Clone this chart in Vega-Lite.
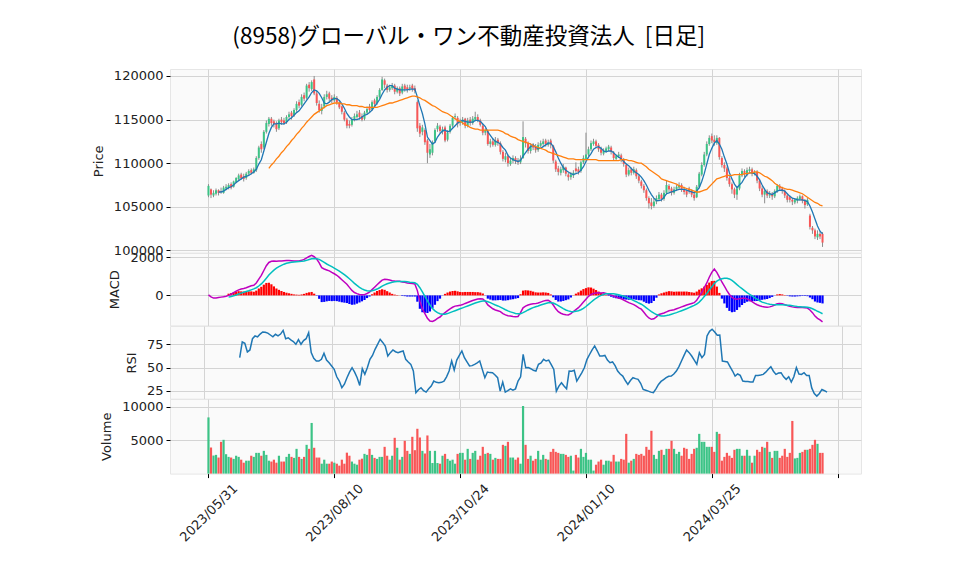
{
"$schema":"https://vega.github.io/schema/vega-lite/v6.json",
"background":"white",
"padding":{"left":91,"top":26,"right":40,"bottom":5},
"title":{"text":"(8958)グローバル・ワン不動産投資法人\u00a0\u00a0[日足]","font":"Noto Sans CJK JP","fontSize":22.5,"fontWeight":"normal","color":"#000000","anchor":"middle","offset":20,"dx":-8},
"spacing":0,
"bounds":"flush",
"config":{
"view":{"fill":"#fafafa","stroke":"#e6e6e6"},
"axis":{"labelFont":"DejaVu Sans","labelFontSize":13,"titleFont":"DejaVu Sans","titleFontSize":13,"titleFontWeight":"normal","labelColor":"#222222","titleColor":"#222222","gridColor":"#d4d4d4","gridWidth":1,"tickColor":"#000000","tickSize":4,"domain":false,"labelPadding":3,"titlePadding":8}
},
"datasets":{"d":[
{"i":0,"o":106300,"h":107600,"l":106100,"c":107400,"v":8400,"md":30},
{"i":1,"o":107000,"h":107100,"l":106000,"c":106400,"v":3900,"md":-80},
{"i":2,"o":106300,"h":106900,"l":106100,"c":106600,"v":2700,"md":-140},
{"i":3,"o":106500,"h":107100,"l":106300,"c":106900,"v":2800,"md":-130},
{"i":4,"o":106900,"h":107000,"l":106300,"c":106600,"v":2400,"m5":106700,"md":-110},
{"i":5,"o":106800,"h":107200,"l":106500,"c":106700,"v":4750,"m5":106700,"md":-90},
{"i":6,"o":106600,"h":107400,"l":106500,"c":107200,"v":5050,"m5":106800,"md":-70},
{"i":7,"o":107100,"h":107600,"l":106900,"c":107300,"v":2900,"m5":107000,"md":-40},
{"i":8,"o":107200,"h":107700,"l":107000,"c":107500,"v":2500,"m5":107200,"md":0,"sg":-90,"hs":90},
{"i":9,"o":107600,"h":107800,"l":107000,"c":107200,"v":2400,"m5":107300,"md":60,"sg":-60,"hs":120},
{"i":10,"o":107300,"h":108000,"l":107200,"c":107900,"v":2200,"m5":107500,"md":140,"sg":-20,"hs":160},
{"i":11,"o":107800,"h":108400,"l":107700,"c":108300,"v":2670,"m5":107800,"md":220,"sg":20,"hs":200},
{"i":12,"o":108200,"h":108800,"l":108000,"c":108600,"v":2500,"m5":108000,"md":290,"sg":70,"hs":220},
{"i":13,"o":108700,"h":108900,"l":108100,"c":108300,"v":2080,"m5":108200,"md":330,"sg":120,"hs":210},
{"i":14,"o":108500,"h":108800,"l":107900,"c":108200,"v":1630,"m5":108400,"md":360,"sg":160,"hs":200,"r":60.6},
{"i":15,"o":108300,"h":109000,"l":108100,"c":108800,"v":1930,"m5":108500,"md":400,"sg":200,"hs":200,"r":77.5},
{"i":16,"o":108800,"h":109300,"l":108600,"c":109100,"v":1930,"m5":108600,"md":450,"sg":240,"hs":210,"r":76},
{"i":17,"o":109200,"h":109400,"l":108700,"c":108900,"v":2670,"m5":108800,"md":500,"sg":290,"hs":210,"r":66.7},
{"i":18,"o":108900,"h":109500,"l":108800,"c":109300,"v":2500,"m5":109000,"md":530,"sg":340,"hs":190,"r":68.9},
{"i":19,"o":109200,"h":110800,"l":109000,"c":110600,"v":3100,"m5":109300,"md":650,"sg":400,"hs":250,"r":81},
{"i":20,"o":110600,"h":112000,"l":110400,"c":111800,"v":3100,"m5":109900,"md":850,"sg":490,"hs":360,"r":84},
{"i":21,"o":112200,"h":112500,"l":111200,"c":111600,"v":2670,"m5":110400,"md":1050,"sg":600,"hs":450,"r":83},
{"i":22,"o":111800,"h":113800,"l":111600,"c":113600,"v":3400,"m5":111400,"md":1300,"sg":740,"hs":560,"r":86},
{"i":23,"o":113600,"h":114900,"l":113400,"c":114600,"v":2800,"m5":112400,"md":1550,"sg":900,"hs":650,"r":88.3},
{"i":24,"o":114500,"h":115300,"l":114200,"c":115100,"v":1930,"m5":113400,"m25":109400,"md":1720,"sg":1060,"hs":660,"r":88},
{"i":25,"o":115100,"h":115300,"l":114300,"c":114600,"v":1800,"m5":114100,"m25":109800,"md":1780,"sg":1200,"hs":580,"r":87},
{"i":26,"o":114800,"h":115000,"l":114100,"c":114500,"v":2080,"m5":114500,"m25":110100,"md":1790,"sg":1320,"hs":470,"r":85},
{"i":27,"o":114600,"h":114800,"l":113600,"c":113900,"v":1630,"m5":114500,"m25":110500,"md":1780,"sg":1420,"hs":360,"r":83},
{"i":28,"o":114000,"h":115100,"l":113800,"c":114900,"v":2670,"m5":114600,"m25":110800,"md":1790,"sg":1500,"hs":290,"r":85.8},
{"i":29,"o":115000,"h":115300,"l":114400,"c":114700,"v":1800,"m5":114500,"m25":111200,"md":1800,"sg":1570,"hs":230,"r":84},
{"i":30,"o":114900,"h":115200,"l":114400,"c":114600,"v":1800,"m5":114500,"m25":111500,"md":1810,"sg":1630,"hs":180,"r":86},
{"i":31,"o":114700,"h":115500,"l":114500,"c":115300,"v":2500,"m5":114700,"m25":111900,"md":1820,"sg":1680,"hs":140,"r":90},
{"i":32,"o":115300,"h":115900,"l":115100,"c":115600,"v":2950,"m5":115000,"m25":112200,"md":1820,"sg":1710,"hs":110,"r":81},
{"i":33,"o":115800,"h":116000,"l":115000,"c":115400,"v":2500,"m5":115200,"m25":112600,"md":1810,"sg":1730,"hs":80,"r":82},
{"i":34,"o":115500,"h":116300,"l":115300,"c":116100,"v":2350,"m5":115500,"m25":112900,"md":1800,"sg":1750,"hs":50,"r":79.7},
{"i":35,"o":116100,"h":117100,"l":115900,"c":116800,"v":3700,"m5":115800,"m25":113300,"md":1800,"sg":1760,"hs":40,"r":78},
{"i":36,"o":117000,"h":117300,"l":116300,"c":116600,"v":2500,"m5":116000,"m25":113600,"md":1800,"sg":1770,"hs":30,"r":75},
{"i":37,"o":116700,"h":117900,"l":116500,"c":117600,"v":2200,"m5":116400,"m25":114000,"md":1830,"sg":1780,"hs":50,"r":80},
{"i":38,"o":117800,"h":118100,"l":117100,"c":117400,"v":2500,"m5":116800,"m25":114300,"md":1880,"sg":1800,"hs":80,"r":75},
{"i":39,"o":117500,"h":119100,"l":117300,"c":118900,"v":4300,"m5":117200,"m25":114700,"md":1960,"sg":1830,"hs":130,"r":79},
{"i":40,"o":119000,"h":119300,"l":118200,"c":118600,"v":3700,"m5":117600,"m25":115000,"md":2030,"sg":1870,"hs":160,"r":81},
{"i":41,"o":118500,"h":119500,"l":118300,"c":119300,"v":7570,"m5":118100,"m25":115300,"md":2090,"sg":1910,"hs":180,"r":87.6},
{"i":42,"o":119600,"h":120000,"l":117800,"c":118000,"v":3860,"m5":118400,"m25":115600,"md":2020,"sg":1930,"hs":90,"r":66},
{"i":43,"o":118000,"h":118300,"l":116600,"c":116900,"v":2400,"m5":118300,"m25":115800,"md":1900,"sg":1920,"hs":-20,"r":60},
{"i":44,"o":116800,"h":117200,"l":115800,"c":116100,"v":2400,"m5":118000,"m25":116000,"md":1700,"sg":1880,"hs":-180,"r":57},
{"i":45,"o":116000,"h":116800,"l":115600,"c":116400,"v":1480,"m5":117500,"m25":116200,"md":1450,"sg":1800,"hs":-350,"r":57},
{"i":46,"o":116500,"h":117900,"l":116300,"c":117600,"v":2080,"m5":116900,"m25":116400,"md":1380,"sg":1720,"hs":-340,"r":58.8},
{"i":47,"o":117600,"h":118300,"l":117300,"c":117900,"v":1480,"m5":116800,"m25":116600,"md":1330,"sg":1640,"hs":-310,"r":65.3},
{"i":48,"o":118000,"h":118200,"l":117100,"c":117400,"v":1480,"m5":117000,"m25":116700,"md":1280,"sg":1570,"hs":-290,"r":58},
{"i":49,"o":117500,"h":117800,"l":116900,"c":117200,"v":1800,"m5":117300,"m25":116800,"md":1200,"sg":1500,"hs":-300,"r":55},
{"i":50,"o":117200,"h":117900,"l":117000,"c":117600,"v":1630,"m5":117400,"m25":116900,"md":1130,"sg":1420,"hs":-290,"r":51.6},
{"i":51,"o":117500,"h":117700,"l":116700,"c":117000,"v":1480,"m5":117400,"m25":116900,"md":1050,"sg":1350,"hs":-300,"r":48},
{"i":52,"o":116900,"h":117100,"l":116200,"c":116400,"v":1190,"m5":117200,"m25":116900,"md":940,"sg":1270,"hs":-330,"r":40},
{"i":53,"o":116500,"h":116600,"l":115600,"c":115900,"v":2080,"m5":116800,"m25":116800,"md":820,"sg":1180,"hs":-360,"r":35.4},
{"i":54,"o":115800,"h":116000,"l":114800,"c":115000,"v":1480,"m5":116300,"m25":116800,"md":700,"sg":1080,"hs":-380,"r":28.2},
{"i":55,"o":115000,"h":115200,"l":114000,"c":114300,"v":3130,"m5":115700,"m25":116700,"md":580,"sg":980,"hs":-400,"r":32},
{"i":56,"o":114500,"h":114900,"l":114000,"c":114300,"v":2670,"m5":115300,"m25":116700,"md":420,"sg":870,"hs":-450,"r":39},
{"i":57,"o":114400,"h":115300,"l":114200,"c":115000,"v":1800,"m5":115000,"m25":116600,"md":260,"sg":750,"hs":-490,"r":45},
{"i":58,"o":115000,"h":115700,"l":114800,"c":115400,"v":1480,"m5":115000,"m25":116600,"md":150,"sg":630,"hs":-480,"r":49.8},
{"i":59,"o":115300,"h":116000,"l":115100,"c":115600,"v":1330,"m5":115000,"m25":116600,"md":90,"sg":520,"hs":-430,"r":45},
{"i":60,"o":115800,"h":116100,"l":115000,"c":115300,"v":2080,"m5":115100,"m25":116500,"md":50,"sg":420,"hs":-370,"r":39},
{"i":61,"o":115400,"h":115700,"l":114800,"c":115000,"v":2230,"m5":115300,"m25":116500,"md":30,"sg":340,"hs":-310,"r":30.7},
{"i":62,"o":115100,"h":116000,"l":114900,"c":115800,"v":2950,"m5":115500,"m25":116400,"md":40,"sg":280,"hs":-240,"r":48.7},
{"i":63,"o":115800,"h":116500,"l":115600,"c":116200,"v":2800,"m5":115600,"m25":116400,"md":100,"sg":240,"hs":-140,"r":42.6},
{"i":64,"o":116500,"h":116800,"l":115800,"c":116100,"v":3700,"m5":115800,"m25":116400,"md":170,"sg":230,"hs":-60,"r":50},
{"i":65,"o":116200,"h":117200,"l":116000,"c":117000,"v":2800,"m5":116100,"m25":116400,"md":300,"sg":240,"hs":60,"r":58.8},
{"i":66,"o":117200,"h":117400,"l":116500,"c":116800,"v":2350,"m5":116500,"m25":116400,"md":430,"sg":280,"hs":150,"r":63},
{"i":67,"o":116900,"h":117800,"l":116700,"c":117600,"v":2200,"m5":116900,"m25":116400,"md":560,"sg":330,"hs":230,"r":69.6},
{"i":68,"o":117600,"h":118600,"l":117400,"c":118400,"v":2500,"m5":117300,"m25":116500,"md":680,"sg":400,"hs":280,"r":75},
{"i":69,"o":118400,"h":119900,"l":118300,"c":119600,"v":2500,"m5":117900,"m25":116600,"md":800,"sg":480,"hs":320,"r":80.4},
{"i":70,"o":119500,"h":119700,"l":118600,"c":119000,"v":4000,"m5":118400,"m25":116700,"md":840,"sg":550,"hs":290,"r":77},
{"i":71,"o":118900,"h":119100,"l":118100,"c":118400,"v":2670,"m5":118700,"m25":116800,"md":830,"sg":610,"hs":220,"r":73.2},
{"i":72,"o":118400,"h":119000,"l":118200,"c":118700,"v":2080,"m5":118900,"m25":116900,"md":800,"sg":650,"hs":150,"r":62.4},
{"i":73,"o":118600,"h":119200,"l":118400,"c":118900,"v":2670,"m5":118900,"m25":116900,"md":770,"sg":690,"hs":80,"r":66},
{"i":74,"o":118900,"h":119100,"l":117900,"c":118200,"v":5350,"m5":118600,"m25":117000,"md":750,"sg":710,"hs":40,"r":68.9},
{"i":75,"o":118200,"h":118800,"l":118000,"c":118600,"v":3860,"m5":118500,"m25":117100,"md":740,"sg":720,"hs":20,"r":67},
{"i":76,"o":118600,"h":118800,"l":117700,"c":118000,"v":2080,"m5":118400,"m25":117200,"md":735,"sg":730,"hs":5,"r":66},
{"i":77,"o":118100,"h":119100,"l":117900,"c":118800,"v":2500,"m5":118400,"m25":117300,"md":700,"sg":730,"hs":-30,"r":67},
{"i":78,"o":118900,"h":119100,"l":118200,"c":118500,"v":4900,"m5":118400,"m25":117400,"md":680,"sg":720,"hs":-40,"r":67.8},
{"i":79,"o":118700,"h":119000,"l":118100,"c":118400,"v":3400,"m5":118400,"m25":117500,"md":650,"sg":710,"hs":-60,"r":58.8},
{"i":80,"o":118600,"h":119000,"l":118300,"c":118700,"v":2950,"m5":118500,"m25":117600,"md":630,"sg":690,"hs":-60,"r":56},
{"i":81,"o":118900,"h":119100,"l":118200,"c":118500,"v":5500,"m5":118500,"m25":117700,"md":620,"sg":680,"hs":-60,"r":53.4},
{"i":82,"o":118600,"h":118900,"l":118000,"c":118300,"v":3500,"m5":118500,"m25":117700,"md":600,"sg":660,"hs":-60,"r":46.2},
{"i":83,"o":117000,"h":117200,"l":113600,"c":114000,"v":6700,"m5":117600,"m25":117600,"md":250,"sg":580,"hs":-330,"r":22.8},
{"i":84,"o":114300,"h":114600,"l":113000,"c":113400,"v":5400,"m5":116600,"m25":117500,"md":-300,"sg":400,"hs":-700,"r":26},
{"i":85,"o":113600,"h":114400,"l":113200,"c":114100,"v":3400,"m5":115700,"m25":117300,"md":-700,"sg":180,"hs":-880,"r":28.2},
{"i":86,"o":113800,"h":114000,"l":112100,"c":112400,"v":3000,"m5":114500,"m25":117200,"md":-950,"sg":-50,"hs":-900,"r":25},
{"i":87,"o":112600,"h":112800,"l":110000,"c":111200,"v":5700,"m5":113000,"m25":117000,"md":-1200,"sg":-280,"hs":-920,"r":23.5},
{"i":88,"o":111000,"h":112200,"l":110600,"c":111600,"v":3400,"m5":112600,"m25":116800,"md":-1340,"sg":-500,"hs":-840,"r":27},
{"i":89,"o":111200,"h":112600,"l":110900,"c":112400,"v":1580,"m5":112200,"m25":116600,"md":-1360,"sg":-680,"hs":-680,"r":30},
{"i":90,"o":112500,"h":114000,"l":112300,"c":113800,"v":3400,"m5":112400,"m25":116500,"md":-1300,"sg":-810,"hs":-490,"r":35.4},
{"i":91,"o":113900,"h":114600,"l":113600,"c":114300,"v":1580,"m5":113000,"m25":116300,"md":-1200,"sg":-900,"hs":-300,"r":34},
{"i":92,"o":114200,"h":114400,"l":113400,"c":113700,"v":1480,"m5":113400,"m25":116100,"md":-1130,"sg":-960,"hs":-170,"r":33.6},
{"i":93,"o":113600,"h":114200,"l":113300,"c":113900,"v":2670,"m5":113700,"m25":115900,"md":-1000,"sg":-990,"hs":-10,"r":34},
{"i":94,"o":114100,"h":114300,"l":112400,"c":112600,"v":2950,"m5":113800,"m25":115800,"md":-900,"sg":-980,"hs":80,"r":35.4},
{"i":95,"o":112700,"h":113800,"l":112500,"c":113500,"v":2200,"m5":113600,"m25":115700,"md":-800,"sg":-950,"hs":150,"r":40},
{"i":96,"o":113600,"h":114500,"l":113400,"c":114300,"v":1930,"m5":113700,"m25":115500,"md":-700,"sg":-900,"hs":200,"r":46.2},
{"i":97,"o":114300,"h":115400,"l":114100,"c":115200,"v":2080,"m5":114000,"m25":115300,"md":-620,"sg":-850,"hs":230,"r":57},
{"i":98,"o":115300,"h":115700,"l":115000,"c":115400,"v":1480,"m5":114300,"m25":115100,"md":-560,"sg":-800,"hs":240,"r":47.3},
{"i":99,"o":115200,"h":115400,"l":114100,"c":114500,"v":2950,"m5":114600,"m25":114900,"md":-540,"sg":-750,"hs":210,"r":58},
{"i":100,"o":114600,"h":115100,"l":114300,"c":114800,"v":3100,"m5":114800,"m25":114800,"md":-520,"sg":-700,"hs":180,"r":63},
{"i":101,"o":114700,"h":115300,"l":114400,"c":115000,"v":3100,"m5":114900,"m25":114600,"md":-480,"sg":-650,"hs":170,"r":67.8},
{"i":102,"o":115100,"h":115200,"l":114000,"c":114300,"v":2080,"m5":114800,"m25":114400,"md":-420,"sg":-600,"hs":180,"r":60.6},
{"i":103,"o":114300,"h":115200,"l":114100,"c":114900,"v":3700,"m5":114700,"m25":114300,"md":-370,"sg":-550,"hs":180,"r":56},
{"i":104,"o":115000,"h":115300,"l":114300,"c":114600,"v":2200,"m5":114700,"m25":114100,"md":-320,"sg":-500,"hs":180,"r":51.6},
{"i":105,"o":114600,"h":115400,"l":114400,"c":115100,"v":3100,"m5":114700,"m25":114000,"md":-270,"sg":-450,"hs":180,"r":52},
{"i":106,"o":115000,"h":115900,"l":114800,"c":115300,"v":3400,"m5":114900,"m25":113900,"md":-230,"sg":-400,"hs":170,"r":53.4},
{"i":107,"o":115300,"h":115600,"l":114700,"c":114900,"v":2080,"m5":114900,"m25":113900,"md":-190,"sg":-360,"hs":170,"r":55},
{"i":108,"o":114900,"h":115100,"l":114200,"c":114400,"v":2670,"m5":114800,"m25":113800,"md":-170,"sg":-320,"hs":150,"r":57},
{"i":109,"o":114300,"h":114500,"l":113200,"c":113500,"v":4000,"m5":114500,"m25":113800,"md":-190,"sg":-290,"hs":100,"r":48},
{"i":110,"o":113500,"h":114000,"l":113200,"c":113800,"v":2950,"m5":114200,"m25":113800,"md":-300,"sg":-290,"hs":-10,"r":39},
{"i":111,"o":113700,"h":113800,"l":112000,"c":112200,"v":3100,"m5":113600,"m25":113800,"md":-500,"sg":-330,"hs":-170,"r":45.1},
{"i":112,"o":112200,"h":112800,"l":111800,"c":112500,"v":2950,"m5":113200,"m25":113800,"md":-600,"sg":-380,"hs":-220,"r":44.5},
{"i":113,"o":112500,"h":112800,"l":111900,"c":112100,"v":2080,"m5":112800,"m25":113800,"md":-700,"sg":-440,"hs":-260,"r":44.4},
{"i":114,"o":112100,"h":113000,"l":111900,"c":112600,"v":2350,"m5":112500,"m25":113800,"md":-760,"sg":-500,"hs":-260,"r":42},
{"i":115,"o":112700,"h":112900,"l":112000,"c":112300,"v":2200,"m5":112400,"m25":113800,"md":-800,"sg":-550,"hs":-250,"r":39},
{"i":116,"o":112300,"h":112500,"l":111000,"c":111300,"v":2200,"m5":112200,"m25":113700,"md":-850,"sg":-610,"hs":-240,"r":24.6},
{"i":117,"o":111300,"h":111500,"l":110200,"c":110500,"v":4300,"m5":111800,"m25":113600,"md":-950,"sg":-680,"hs":-270,"r":34.3},
{"i":118,"o":110400,"h":111200,"l":110100,"c":110800,"v":4150,"m5":111500,"m25":113400,"md":-1020,"sg":-750,"hs":-270,"r":23.5},
{"i":119,"o":110800,"h":111000,"l":109600,"c":110000,"v":4750,"m5":110900,"m25":113300,"md":-1060,"sg":-810,"hs":-250,"r":25},
{"i":120,"o":109900,"h":110600,"l":109700,"c":110300,"v":2400,"m5":110600,"m25":113100,"md":-1080,"sg":-860,"hs":-220,"r":27},
{"i":121,"o":110300,"h":110900,"l":110000,"c":110600,"v":2400,"m5":110400,"m25":113000,"md":-1100,"sg":-900,"hs":-200,"r":25.7},
{"i":122,"o":110600,"h":110800,"l":109900,"c":110200,"v":2080,"m5":110300,"m25":112900,"md":-1110,"sg":-940,"hs":-170,"r":27},
{"i":123,"o":110300,"h":110600,"l":109800,"c":110100,"v":2400,"m5":110200,"m25":112700,"md":-1100,"sg":-960,"hs":-140,"r":35.4},
{"i":124,"o":110100,"h":110900,"l":109900,"c":110500,"v":1480,"m5":110300,"m25":112600,"md":-900,"sg":-960,"hs":60,"r":40},
{"i":125,"o":110600,"h":114800,"l":110500,"c":113000,"v":10100,"m5":110800,"m25":112500,"md":-650,"sg":-900,"hs":250,"r":64.2},
{"i":126,"o":112800,"h":113000,"l":111800,"c":112300,"v":4300,"m5":111200,"m25":112400,"md":-560,"sg":-830,"hs":270,"r":49.8},
{"i":127,"o":112300,"h":112500,"l":111100,"c":111400,"v":2200,"m5":111600,"m25":112300,"md":-500,"sg":-760,"hs":260,"r":50},
{"i":128,"o":111400,"h":112300,"l":111100,"c":112000,"v":2670,"m5":111900,"m25":112200,"md":-460,"sg":-700,"hs":240,"r":48.7},
{"i":129,"o":112100,"h":112300,"l":111500,"c":111800,"v":1930,"m5":112100,"m25":112000,"md":-440,"sg":-640,"hs":200,"r":47},
{"i":130,"o":111900,"h":112200,"l":111200,"c":111500,"v":2200,"m5":111800,"m25":111900,"md":-430,"sg":-590,"hs":160,"r":46.2},
{"i":131,"o":111500,"h":112400,"l":111300,"c":112100,"v":3400,"m5":111700,"m25":111800,"md":-400,"sg":-550,"hs":150,"r":53.4},
{"i":132,"o":112000,"h":112600,"l":111800,"c":112300,"v":2080,"m5":111700,"m25":111700,"md":-350,"sg":-500,"hs":150,"r":55},
{"i":133,"o":112200,"h":112800,"l":112000,"c":112500,"v":2800,"m5":111900,"m25":111600,"md":-300,"sg":-460,"hs":160,"r":58.8},
{"i":134,"o":112600,"h":112800,"l":111900,"c":112200,"v":2200,"m5":112100,"m25":111500,"md":-270,"sg":-420,"hs":150,"r":57},
{"i":135,"o":112100,"h":112700,"l":111900,"c":112400,"v":2080,"m5":112300,"m25":111300,"md":-260,"sg":-390,"hs":130,"r":58},
{"i":136,"o":112600,"h":112800,"l":111700,"c":112100,"v":3250,"m5":112300,"m25":111200,"md":-330,"sg":-380,"hs":50,"r":53},
{"i":137,"o":112000,"h":112100,"l":110000,"c":110300,"v":3700,"m5":111900,"m25":111100,"md":-500,"sg":-400,"hs":-100,"r":48},
{"i":138,"o":110200,"h":110400,"l":109000,"c":109300,"v":3250,"m5":111300,"m25":111000,"md":-700,"sg":-460,"hs":-240,"r":24.6},
{"i":139,"o":109400,"h":109700,"l":108600,"c":109000,"v":3100,"m5":110600,"m25":110900,"md":-850,"sg":-530,"hs":-320,"r":30},
{"i":140,"o":108900,"h":109600,"l":108600,"c":109300,"v":2950,"m5":110000,"m25":110800,"md":-930,"sg":-610,"hs":-320,"r":33.6},
{"i":141,"o":109200,"h":109900,"l":108900,"c":109600,"v":2950,"m5":109500,"m25":110700,"md":-980,"sg":-690,"hs":-290,"r":30},
{"i":142,"o":109500,"h":109600,"l":108500,"c":108800,"v":2800,"m5":109200,"m25":110600,"md":-1010,"sg":-760,"hs":-250,"r":27},
{"i":143,"o":108700,"h":108900,"l":108000,"c":108400,"v":2500,"m5":109000,"m25":110500,"md":-1020,"sg":-810,"hs":-210,"r":46.2},
{"i":144,"o":108400,"h":109000,"l":108100,"c":108700,"v":2670,"m5":108800,"m25":110500,"md":-950,"sg":-840,"hs":-110,"r":46},
{"i":145,"o":108600,"h":109200,"l":108300,"c":108900,"v":450,"m5":108700,"m25":110500,"md":-840,"sg":-850,"hs":10,"r":47},
{"i":146,"o":109400,"h":110100,"l":108900,"c":109100,"v":2800,"m5":108800,"m25":110400,"md":-740,"sg":-830,"hs":90,"r":35.4},
{"i":147,"o":109300,"h":109600,"l":108700,"c":109000,"v":2400,"m5":108900,"m25":110400,"md":-640,"sg":-800,"hs":160,"r":40},
{"i":148,"o":109100,"h":110300,"l":108900,"c":110100,"v":3700,"m5":109200,"m25":110400,"md":-500,"sg":-750,"hs":250,"r":44.4},
{"i":149,"o":110100,"h":110900,"l":109900,"c":110600,"v":2500,"m5":109600,"m25":110400,"md":-350,"sg":-680,"hs":330,"r":50},
{"i":150,"o":110500,"h":113500,"l":110300,"c":111000,"v":3100,"m5":110200,"m25":110400,"md":-200,"sg":-580,"hs":380,"r":58.8},
{"i":151,"o":111000,"h":111900,"l":110800,"c":111600,"v":2080,"m5":110700,"m25":110400,"md":-50,"sg":-470,"hs":420,"r":64},
{"i":152,"o":111600,"h":112600,"l":111400,"c":112300,"v":2080,"m5":111100,"m25":110400,"md":50,"sg":-360,"hs":410,"r":69},
{"i":153,"o":112200,"h":112800,"l":112000,"c":112500,"v":450,"m5":111600,"m25":110400,"md":100,"sg":-250,"hs":350,"r":73.2},
{"i":154,"o":112500,"h":112700,"l":111700,"c":112000,"v":1330,"m5":111800,"m25":110400,"md":130,"sg":-150,"hs":280,"r":68},
{"i":155,"o":112100,"h":112300,"l":111300,"c":111600,"v":1800,"m5":111900,"m25":110300,"md":140,"sg":-60,"hs":200,"r":62.4},
{"i":156,"o":111600,"h":111900,"l":110900,"c":111200,"v":2080,"m5":111700,"m25":110300,"md":130,"sg":0,"hs":130,"r":62.4},
{"i":157,"o":111100,"h":111700,"l":110900,"c":111400,"v":1330,"m5":111400,"m25":110300,"md":140,"sg":50,"hs":90,"r":63},
{"i":158,"o":111400,"h":111900,"l":111200,"c":111700,"v":1930,"m5":111300,"m25":110300,"md":100,"sg":80,"hs":20,"r":58},
{"i":159,"o":111600,"h":112100,"l":111400,"c":111900,"v":1930,"m5":111400,"m25":110300,"md":60,"sg":90,"hs":-30,"r":55.2},
{"i":160,"o":111800,"h":112000,"l":111000,"c":111300,"v":1800,"m5":111400,"m25":110300,"md":20,"sg":90,"hs":-70,"r":56},
{"i":161,"o":111200,"h":111400,"l":110300,"c":110600,"v":2800,"m5":111200,"m25":110300,"md":-40,"sg":80,"hs":-120,"r":52},
{"i":162,"o":110500,"h":111000,"l":110300,"c":110800,"v":1800,"m5":110900,"m25":110300,"md":-90,"sg":60,"hs":-150,"r":46.2},
{"i":163,"o":110800,"h":111300,"l":110600,"c":111000,"v":1800,"m5":110700,"m25":110300,"md":-140,"sg":30,"hs":-170,"r":43},
{"i":164,"o":110900,"h":111100,"l":110100,"c":110400,"v":2200,"m5":110500,"m25":110400,"md":-180,"sg":0,"hs":-180,"r":40.8},
{"i":165,"o":110400,"h":110600,"l":109600,"c":109900,"v":2080,"m5":110200,"m25":110400,"md":-240,"sg":-40,"hs":-200,"r":36},
{"i":166,"o":109800,"h":110000,"l":108400,"c":108700,"v":5940,"m5":109900,"m25":110400,"md":-310,"sg":-90,"hs":-220,"r":31.8},
{"i":167,"o":108700,"h":109500,"l":108500,"c":109200,"v":1630,"m5":109700,"m25":110300,"md":-380,"sg":-150,"hs":-230,"r":36},
{"i":168,"o":109300,"h":109500,"l":108600,"c":108900,"v":1930,"m5":109400,"m25":110300,"md":-430,"sg":-210,"hs":-220,"r":39},
{"i":169,"o":108900,"h":109600,"l":108700,"c":109300,"v":2200,"m5":109100,"m25":110200,"md":-480,"sg":-270,"hs":-210,"r":38},
{"i":170,"o":109200,"h":109400,"l":108200,"c":108500,"v":2950,"m5":108900,"m25":110100,"md":-560,"sg":-330,"hs":-230,"r":37.2},
{"i":171,"o":108500,"h":108700,"l":107700,"c":108000,"v":2800,"m5":108700,"m25":110000,"md":-650,"sg":-400,"hs":-250,"r":33},
{"i":172,"o":107900,"h":108100,"l":107100,"c":107400,"v":2950,"m5":108400,"m25":110000,"md":-720,"sg":-460,"hs":-260,"r":26.4},
{"i":173,"o":107400,"h":107600,"l":106600,"c":106900,"v":2670,"m5":108000,"m25":109800,"md":-880,"sg":-550,"hs":-330,"r":25.5},
{"i":174,"o":106900,"h":107100,"l":105700,"c":106000,"v":4000,"m5":107500,"m25":109600,"md":-1050,"sg":-650,"hs":-400,"r":24.6},
{"i":175,"o":106000,"h":106200,"l":104800,"c":105400,"v":3560,"m5":106900,"m25":109300,"md":-1180,"sg":-750,"hs":-430,"r":23.5},
{"i":176,"o":105500,"h":106000,"l":104700,"c":105100,"v":6400,"m5":106400,"m25":109100,"md":-1250,"sg":-850,"hs":-400,"r":22.8},
{"i":177,"o":105100,"h":106000,"l":104900,"c":105600,"v":2800,"m5":106000,"m25":108900,"md":-1220,"sg":-930,"hs":-290,"r":27},
{"i":178,"o":105600,"h":106300,"l":105300,"c":106000,"v":2200,"m5":105700,"m25":108700,"md":-1120,"sg":-1000,"hs":-120,"r":31.8},
{"i":179,"o":105900,"h":106700,"l":105700,"c":106400,"v":3400,"m5":105700,"m25":108500,"md":-1000,"sg":-1050,"hs":50,"r":35},
{"i":180,"o":106400,"h":106600,"l":105600,"c":105900,"v":3560,"m5":105800,"m25":108200,"md":-960,"sg":-1070,"hs":110,"r":37},
{"i":181,"o":105900,"h":106900,"l":105700,"c":106600,"v":2800,"m5":106100,"m25":108100,"md":-920,"sg":-1070,"hs":150,"r":39},
{"i":182,"o":106600,"h":108000,"l":106400,"c":107500,"v":3700,"m5":106500,"m25":108000,"md":-860,"sg":-1050,"hs":190,"r":40.5},
{"i":183,"o":107400,"h":107600,"l":106700,"c":107000,"v":3700,"m5":106600,"m25":107900,"md":-800,"sg":-1020,"hs":220,"r":40.8},
{"i":184,"o":107100,"h":107300,"l":106300,"c":106600,"v":4900,"m5":106700,"m25":107800,"md":-770,"sg":-980,"hs":210,"r":43},
{"i":185,"o":106600,"h":107300,"l":106400,"c":107000,"v":3700,"m5":106800,"m25":107700,"md":-750,"sg":-940,"hs":190,"r":46.2},
{"i":186,"o":107000,"h":107500,"l":106800,"c":107300,"v":2950,"m5":106900,"m25":107600,"md":-700,"sg":-900,"hs":200,"r":51},
{"i":187,"o":107200,"h":107800,"l":107000,"c":107500,"v":3250,"m5":107000,"m25":107400,"md":-650,"sg":-850,"hs":200,"r":57},
{"i":188,"o":107500,"h":107700,"l":106700,"c":107000,"v":2670,"m5":107000,"m25":107300,"md":-600,"sg":-800,"hs":200,"r":63},
{"i":189,"o":107000,"h":107300,"l":106400,"c":106700,"v":3860,"m5":107000,"m25":107200,"md":-550,"sg":-750,"hs":200,"r":68.9},
{"i":190,"o":106800,"h":107000,"l":106100,"c":106400,"v":3700,"m5":106900,"m25":107100,"md":-500,"sg":-700,"hs":200,"r":66},
{"i":191,"o":107100,"h":107300,"l":106500,"c":106800,"v":2200,"m5":106800,"m25":107000,"md":-460,"sg":-640,"hs":180,"r":62.4},
{"i":192,"o":106800,"h":107000,"l":106100,"c":106400,"v":2950,"m5":106700,"m25":106900,"md":-420,"sg":-580,"hs":160,"r":58},
{"i":193,"o":106400,"h":106700,"l":105700,"c":106000,"v":3700,"m5":106600,"m25":106800,"md":-380,"sg":-520,"hs":140,"r":53.4},
{"i":194,"o":106100,"h":107500,"l":106000,"c":107300,"v":3860,"m5":106800,"m25":106700,"md":-250,"sg":-450,"hs":200,"r":66},
{"i":195,"o":107300,"h":109000,"l":107100,"c":108800,"v":5940,"m5":107200,"m25":106700,"md":-50,"sg":-350,"hs":300,"r":60.6},
{"i":196,"o":108700,"h":110100,"l":108500,"c":109800,"v":4750,"m5":107900,"m25":106800,"md":150,"sg":-220,"hs":370,"r":64},
{"i":197,"o":109800,"h":111300,"l":109600,"c":111000,"v":4750,"m5":108800,"m25":106900,"md":400,"sg":-60,"hs":460,"r":84},
{"i":198,"o":111000,"h":112500,"l":110800,"c":112200,"v":4000,"m5":109900,"m25":107000,"md":650,"sg":100,"hs":550,"r":89},
{"i":199,"o":112200,"h":113200,"l":112000,"c":112900,"v":4000,"m5":111000,"m25":107300,"md":950,"sg":280,"hs":670,"r":91.2},
{"i":200,"o":113100,"h":113400,"l":112300,"c":112600,"v":4000,"m5":111700,"m25":107600,"md":1200,"sg":450,"hs":750,"r":88.3},
{"i":201,"o":112700,"h":113200,"l":112000,"c":112400,"v":3250,"m5":112300,"m25":107900,"md":1380,"sg":620,"hs":760,"r":84.7},
{"i":202,"o":112300,"h":113200,"l":112100,"c":112900,"v":6240,"m5":112600,"m25":108200,"md":1200,"sg":740,"hs":460,"r":85},
{"i":203,"o":112900,"h":113000,"l":110400,"c":110700,"v":5940,"m5":112200,"m25":108300,"md":950,"sg":820,"hs":130,"r":57},
{"i":204,"o":110600,"h":110800,"l":109500,"c":109800,"v":1930,"m5":111600,"m25":108400,"md":700,"sg":870,"hs":-170,"r":56.5},
{"i":205,"o":109800,"h":110100,"l":109000,"c":109400,"v":2500,"m5":110700,"m25":108500,"md":480,"sg":900,"hs":-420,"r":56},
{"i":206,"o":109400,"h":109600,"l":108000,"c":108300,"v":3100,"m5":109900,"m25":108600,"md":250,"sg":900,"hs":-650,"r":51},
{"i":207,"o":108300,"h":108600,"l":107300,"c":107600,"v":2670,"m5":108900,"m25":108600,"md":50,"sg":860,"hs":-810,"r":46.2},
{"i":208,"o":107600,"h":107800,"l":106500,"c":107000,"v":2350,"m5":108200,"m25":108600,"md":-100,"sg":780,"hs":-880,"r":40.8},
{"i":209,"o":107000,"h":107200,"l":106000,"c":106400,"v":3560,"m5":107600,"m25":108700,"md":-180,"sg":680,"hs":-860,"r":43},
{"i":210,"o":106400,"h":107400,"l":105800,"c":107100,"v":3700,"m5":107200,"m25":108700,"md":-200,"sg":560,"hs":-760,"r":41.5},
{"i":211,"o":107100,"h":108900,"l":106900,"c":108600,"v":3700,"m5":107500,"m25":108700,"md":-170,"sg":450,"hs":-620,"r":35.4},
{"i":212,"o":108600,"h":109400,"l":108400,"c":109100,"v":2670,"m5":107800,"m25":108700,"md":-150,"sg":350,"hs":-500,"r":35},
{"i":213,"o":109100,"h":109300,"l":108400,"c":108700,"v":2670,"m5":108300,"m25":108800,"md":-150,"sg":250,"hs":-400,"r":34.8},
{"i":214,"o":108700,"h":109500,"l":108500,"c":109200,"v":3560,"m5":108700,"m25":108800,"md":-180,"sg":150,"hs":-330,"r":34.5},
{"i":215,"o":109100,"h":109600,"l":108900,"c":109300,"v":2670,"m5":108900,"m25":108900,"md":-250,"sg":60,"hs":-310,"r":34.3},
{"i":216,"o":109300,"h":109500,"l":108500,"c":108800,"v":1630,"m5":108900,"m25":108900,"md":-330,"sg":-30,"hs":-300,"r":41.5},
{"i":217,"o":108800,"h":109200,"l":108600,"c":109000,"v":2670,"m5":108800,"m25":109000,"md":-420,"sg":-120,"hs":-300,"r":41.5},
{"i":218,"o":109000,"h":109200,"l":107700,"c":108000,"v":3560,"m5":108500,"m25":109000,"md":-490,"sg":-200,"hs":-290,"r":42},
{"i":219,"o":108000,"h":108200,"l":106800,"c":107100,"v":3250,"m5":108100,"m25":108900,"md":-540,"sg":-280,"hs":-260,"r":42.6},
{"i":220,"o":107100,"h":107400,"l":106100,"c":106400,"v":4000,"m5":107500,"m25":108700,"md":-580,"sg":-350,"hs":-230,"r":45},
{"i":221,"o":106400,"h":107100,"l":105400,"c":106800,"v":3860,"m5":107000,"m25":108500,"md":-600,"sg":-390,"hs":-210,"r":48},
{"i":222,"o":106800,"h":107000,"l":106000,"c":106300,"v":4750,"m5":106600,"m25":108400,"md":-620,"sg":-430,"hs":-190,"r":50.9},
{"i":223,"o":106300,"h":106800,"l":106000,"c":106500,"v":3250,"m5":106500,"m25":108200,"md":-600,"sg":-460,"hs":-140,"r":46},
{"i":224,"o":106500,"h":106700,"l":105800,"c":106200,"v":2350,"m5":106400,"m25":108000,"md":-560,"sg":-480,"hs":-80,"r":42.6},
{"i":225,"o":106200,"h":107000,"l":106000,"c":106800,"v":3400,"m5":106600,"m25":107700,"md":-500,"sg":-490,"hs":-10,"r":44},
{"i":226,"o":106800,"h":107600,"l":106600,"c":107400,"v":3400,"m5":106800,"m25":107500,"md":-440,"sg":-490,"hs":50,"r":44.4},
{"i":227,"o":107400,"h":107600,"l":106800,"c":107100,"v":2350,"m5":106900,"m25":107300,"md":-420,"sg":-490,"hs":70,"r":40},
{"i":228,"o":107100,"h":107300,"l":106500,"c":106800,"v":2670,"m5":106900,"m25":107200,"md":-440,"sg":-490,"hs":50,"r":37.2},
{"i":229,"o":106800,"h":107000,"l":106000,"c":106300,"v":3700,"m5":106800,"m25":107100,"md":-480,"sg":-500,"hs":20,"r":40},
{"i":230,"o":106300,"h":106500,"l":105500,"c":105800,"v":2500,"m5":106500,"m25":107000,"md":-530,"sg":-510,"hs":-20,"r":34.3},
{"i":231,"o":106100,"h":106300,"l":105500,"c":105800,"v":3100,"m5":106200,"m25":107000,"md":-570,"sg":-520,"hs":-50,"r":40},
{"i":232,"o":105800,"h":106000,"l":105200,"c":105600,"v":7870,"m5":106000,"m25":106900,"md":-600,"sg":-540,"hs":-60,"r":49.8},
{"i":233,"o":105500,"h":106000,"l":105300,"c":105800,"v":2270,"m5":105900,"m25":106800,"md":-620,"sg":-560,"hs":-60,"r":43},
{"i":234,"o":105700,"h":106200,"l":105400,"c":106000,"v":2350,"m5":105800,"m25":106700,"md":-630,"sg":-580,"hs":-50,"r":42.6},
{"i":235,"o":105900,"h":106400,"l":105700,"c":106200,"v":3100,"m5":105800,"m25":106600,"md":-630,"sg":-590,"hs":-40,"r":44.4},
{"i":236,"o":106200,"h":106300,"l":105400,"c":105700,"v":3250,"m5":105800,"m25":106500,"md":-630,"sg":-600,"hs":-30,"r":41.5},
{"i":237,"o":105700,"h":105900,"l":104800,"c":105200,"v":3560,"m5":105700,"m25":106300,"md":-640,"sg":-610,"hs":-30,"r":41.5},
{"i":238,"o":105300,"h":106000,"l":105100,"c":105800,"v":3560,"m5":105600,"m25":106100,"md":-660,"sg":-620,"hs":-40,"r":28},
{"i":239,"o":104000,"h":104200,"l":102400,"c":102700,"v":3700,"m5":105100,"m25":105900,"md":-760,"sg":-650,"hs":-110,"r":22},
{"i":240,"o":102600,"h":102800,"l":101900,"c":102300,"v":4300,"m5":104400,"m25":105700,"md":-900,"sg":-700,"hs":-200,"r":19.2},
{"i":241,"o":102300,"h":102500,"l":101300,"c":101600,"v":5050,"m5":103600,"m25":105500,"md":-1080,"sg":-760,"hs":-320,"r":22},
{"i":242,"o":101500,"h":102300,"l":101200,"c":101900,"v":4450,"m5":102800,"m25":105400,"md":-1200,"sg":-830,"hs":-370,"r":26.4},
{"i":243,"o":101900,"h":102200,"l":101300,"c":101600,"v":3100,"m5":102200,"m25":105200,"md":-1280,"sg":-890,"hs":-390,"r":25},
{"i":244,"o":101900,"h":102100,"l":100400,"c":100900,"v":3100,"m5":101900,"m25":105100,"md":-1380,"sg":-960,"hs":-420,"r":23.5}
]},
"vconcat":[
{"width":691,"height":183.6,"data":{"name":"d"},
"encoding":{"x":{"field":"i","type":"quantitative","scale":{"domain":[-13.3,257.3],"nice":false,"zero":false},"axis":{"values":[0,50,100,150,200,250],"labels":false,"ticks":false,"title":null,"grid":true}}},
"layer":[
{"mark":{"type":"rule","color":"#8c8c8c","strokeWidth":1},"encoding":{"y":{"field":"l","type":"quantitative","scale":{"domain":[99750,120800],"nice":false,"zero":false},"axis":{"values":[100000,105000,110000,115000,120000],"format":"d","title":"Price"}},"y2":{"field":"h"}}},
{"mark":{"type":"bar","width":2},"encoding":{"y":{"field":"o","type":"quantitative"},"y2":{"field":"c"},"color":{"condition":{"test":"datum.c >= datum.o","value":"#3cc386"},"value":"#f85656"}}},
{"mark":{"type":"line","color":"#1f77b4","strokeWidth":1.3},"encoding":{"y":{"field":"m5","type":"quantitative"}}},
{"mark":{"type":"line","color":"#ff7f0e","strokeWidth":1.3},"encoding":{"y":{"field":"m25","type":"quantitative"}}}
]},
{"width":691,"height":72.4,"data":{"name":"d"},
"encoding":{"x":{"field":"i","type":"quantitative","scale":{"domain":[-13.3,257.3],"nice":false,"zero":false},"axis":{"values":[0,50,100,150,200,250],"labels":false,"ticks":false,"title":null,"grid":true}}},
"layer":[
{"mark":{"type":"bar","width":2.2},"encoding":{"y":{"field":"hs","type":"quantitative","scale":{"domain":[-1567,2214],"nice":false,"zero":false},"axis":{"values":[0,2000],"format":"d","title":"MACD"}},"y2":{"datum":0},"color":{"condition":{"test":"datum.hs >= 0","value":"#ff0000"},"value":"#0000ff"}}},
{"mark":{"type":"line","color":"#bf00bf","strokeWidth":1.5},"encoding":{"y":{"field":"md","type":"quantitative"}}},
{"mark":{"type":"line","color":"#00bfbf","strokeWidth":1.5},"encoding":{"y":{"field":"sg","type":"quantitative"}}}
]},
{"width":691,"height":72.7,"data":{"name":"d"},
"encoding":{"x":{"field":"i","type":"quantitative","scale":{"domain":[-13.3,257.3],"nice":false,"zero":false},"axis":{"values":[0,50,100,150,200,250],"labels":false,"ticks":false,"title":null,"grid":true}}},
"layer":[
{"mark":{"type":"line","color":"#1f77b4","strokeWidth":1.5},"encoding":{"y":{"field":"r","type":"quantitative","scale":{"domain":[16.4,94.7],"nice":false,"zero":false},"axis":{"values":[25,50,75],"title":"RSI"}}}}
]},
{"width":691,"height":74.6,"data":{"name":"d"},
"layer":[
{"mark":{"type":"bar","width":2.2},"encoding":{
"x":{"field":"i","type":"quantitative","scale":{"domain":[-13.3,257.3],"nice":false,"zero":false},"axis":{"values":[0,50,100,150,200,250],"title":null,"grid":true,"labelExpr":"datum.value == 0 ? '2023/05/31' : datum.value == 50 ? '2023/08/10' : datum.value == 100 ? '2023/10/24' : datum.value == 150 ? '2024/01/10' : datum.value == 200 ? '2024/03/25' : ''","labelAngle":-45,"labelAlign":"center","labelBaseline":"middle","labelPadding":35,"labelFlush":false,"labelOverlap":false}},
"y":{"field":"v","type":"quantitative","scale":{"domain":[0,11150],"nice":false,"zero":false},"axis":{"values":[5000,10000],"format":"d","title":"Volume"}},
"color":{"condition":{"test":"datum.c >= datum.o","value":"#3cc386"},"value":"#f85656"}}}
]}
]
}
